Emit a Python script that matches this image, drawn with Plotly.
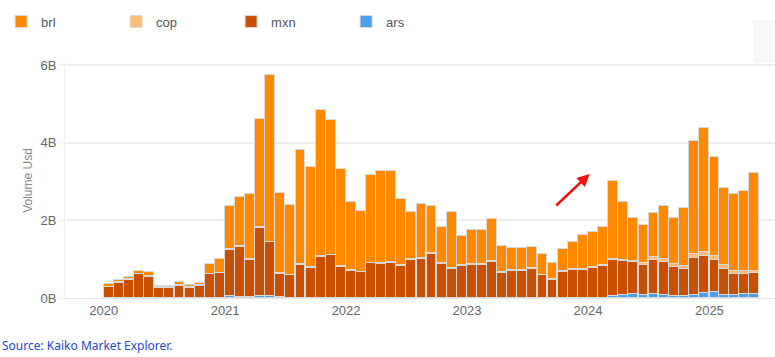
import plotly.graph_objects as go

months = [f"{y}-{m:02d}-01" for y in range(2020, 2026) for m in range(1, 13)][:65]

# values in billions USD
ars = [0]*12 + [0.05, 0.03, 0.03, 0.05, 0.05, 0.02] + [0]*32 + \
      [0.04, 0.07, 0.10, 0.07, 0.10, 0.07, 0.06, 0.06, 0.08, 0.12,
       0.15, 0.09, 0.07, 0.10, 0.10]
mxn = [0.28, 0.38, 0.47, 0.61, 0.55, 0.25, 0.25, 0.32, 0.25, 0.31, 0.61, 0.64,
       1.19, 1.29, 0.95, 1.76, 1.38, 0.60, 0.58, 0.86, 0.78, 1.05, 1.10, 0.81,
       0.70, 0.66, 0.89, 0.88, 0.91, 0.82, 0.98, 1.01, 1.13, 0.88, 0.75, 0.83,
       0.85, 0.85, 0.93, 0.64, 0.69, 0.69, 0.74, 0.58, 0.46, 0.67, 0.72, 0.72,
       0.77, 0.83, 0.95, 0.87, 0.82, 0.78, 0.89, 0.85, 0.74, 0.68, 0.94, 0.97,
       0.84, 0.65, 0.56, 0.53, 0.54]
cop = [0.01, 0.02, 0.01, 0.01, 0.02, 0.04, 0.04, 0.02, 0.03, 0.02, 0.01, 0.01,
       0.02, 0.02, 0.02, 0.02, 0.02, 0.02, 0.02, 0.02, 0.02, 0.02, 0.02, 0.02,
       0.02, 0.02, 0.02, 0.02, 0.02, 0.02, 0.02, 0.02, 0.02, 0.02, 0.02, 0.02,
       0.02, 0.02, 0.02, 0.02, 0.02, 0.02, 0.02, 0.02, 0.02, 0.02, 0.02, 0.02,
       0.02, 0.02, 0.02, 0.03, 0.02, 0.04, 0.07, 0.09, 0.08, 0.08, 0.11, 0.10,
       0.10, 0.11, 0.07, 0.07, 0.06]
brl = [0.07, 0.06, 0.07, 0.07, 0.09, 0.02, 0.02, 0.08, 0.06, 0.06, 0.26, 0.36,
       1.12, 1.26, 1.67, 2.77, 4.30, 2.06, 1.80, 2.92, 2.56, 3.76, 3.46, 2.50,
       1.76, 1.56, 2.25, 2.37, 2.34, 1.72, 1.21, 1.38, 1.22, 0.93, 1.44, 0.74,
       0.87, 0.87, 1.08, 0.69, 0.57, 0.57, 0.55, 0.54, 0.42, 0.57, 0.71, 0.88,
       0.90, 0.98, 2.01, 1.49, 1.11, 0.99, 1.12, 1.37, 1.17, 1.50, 2.90, 3.19,
       2.55, 1.99, 1.99, 2.05, 2.53]

series = [("ars", ars, "#4a9fea"), ("mxn", mxn, "#c84f00"),
          ("cop", cop, "#fdbb76"), ("brl", brl, "#ff8a00")]
legend_rank = {"brl": 1, "cop": 2, "mxn": 3, "ars": 4}

y_ticks = [0, 2, 4, 6]
y_labels = ["0B", "2B", "4B", "6B"]

fig = go.Figure()
for name, vals, col in series:
    fig.add_trace(go.Bar(
        x=months, y=vals, name=name,
        marker=dict(color=col, line=dict(color="#d9d9d9", width=1)),
        xperiod="M1", xperiodalignment="middle",
        legendrank=legend_rank[name],
    ))

fig.update_layout(
    barmode="stack", bargap=0.0,
    width=775, height=357,
    margin=dict(l=65, r=0, t=63, b=59),
    paper_bgcolor="white", plot_bgcolor="white",
    font=dict(family="Liberation Sans, Arial, sans-serif", color="#666", size=13),
    legend=dict(orientation="h", x=-0.09, y=1.24, xanchor="left", yanchor="top",
                entrywidth=70, entrywidthmode="pixels",
                font=dict(size=13, color="#555"), traceorder="normal"),
    showlegend=True,
)
fig.update_xaxes(
    type="date", range=["2019-09-06", "2025-07-18"],
    dtick="M12", tick0="2020-01-01", tickformat="%Y",
    showgrid=False, showline=True, linecolor="#e6e6e6", linewidth=1,
    ticks="", tickfont=dict(size=13, color="#666"),
)
fig.update_yaxes(
    range=[0, 6.05], tickvals=y_ticks, ticktext=y_labels,
    showgrid=True, gridcolor="#eeeeee", gridwidth=2,
    showline=True, linecolor="#eeeeee", linewidth=1,
    ticks="outside", ticklen=5, tickcolor="#eeeeee",
    tickfont=dict(size=13, color="#666"),
    title=dict(text="Volume Usd", font=dict(size=12, color="#888"), standoff=5),
    zeroline=False,
)

fig.add_shape(type="rect", xref="paper", yref="paper",
              x0=0.969, x1=1.0, y0=1.0, y1=1.183,
              fillcolor="#f8f8f8", line=dict(width=0), layer="below")

fig.add_annotation(xref="paper", yref="paper", x=0.739, y=0.528,
                   ax=-35, ay=33, axref="pixel", ayref="pixel",
                   showarrow=True, arrowhead=2, arrowsize=1, arrowwidth=2.5,
                   arrowcolor="#f01010", text="")

fig.add_annotation(xref="paper", yref="paper", x=-0.0915, y=-0.204,
                   xanchor="left", yanchor="middle", showarrow=False,
                   text="Source: Kaiko Market Explorer.",
                   font=dict(family="Noto Sans, sans-serif", size=12, color="#1f48c8"))

fig.write_html("out.html", config={"displayModeBar": False},
               post_script="document.body.style.margin='0';document.body.style.overflow='hidden';")
